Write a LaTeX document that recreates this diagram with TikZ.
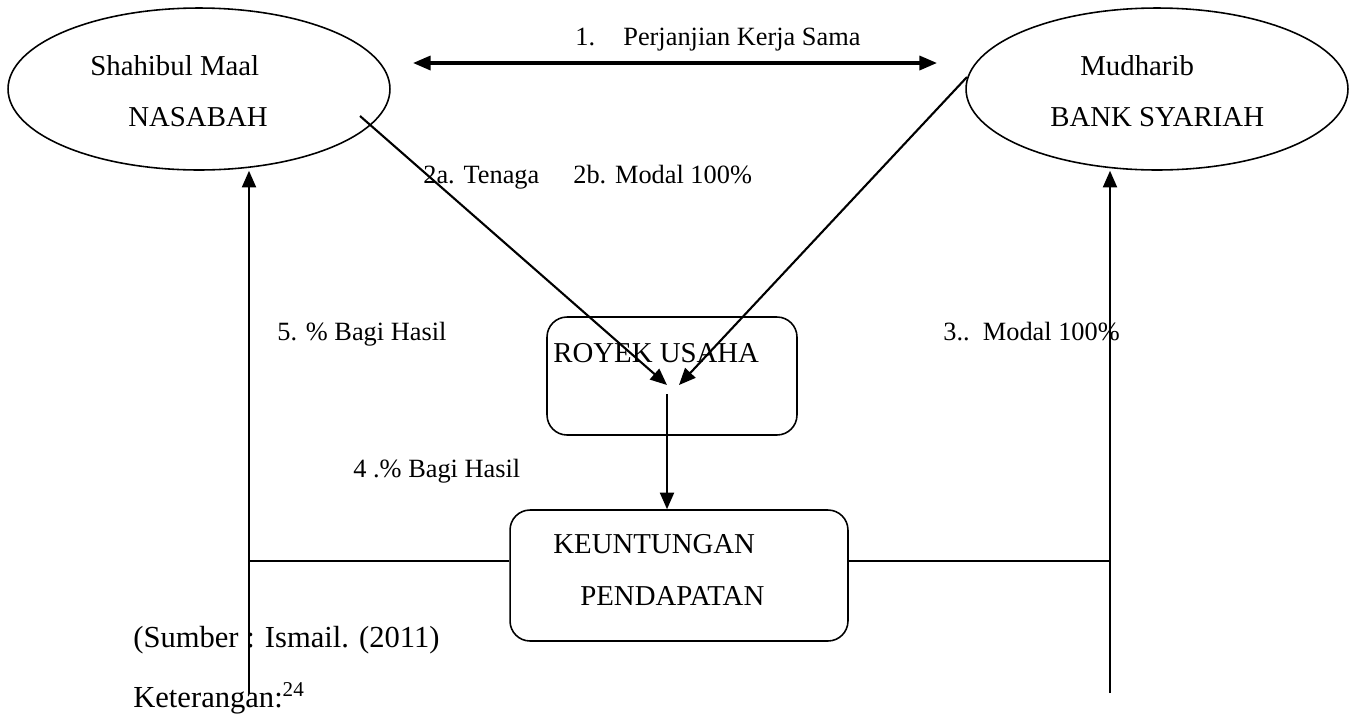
\documentclass[tikz,border=0pt]{standalone}
\usepackage{fontspec}
\setmainfont{Liberation Serif}
\usetikzlibrary{arrows.meta,shapes.geometric}
\tikzset{
  big/.style={font=\fontsize{16.4}{20}\selectfont, inner sep=0pt, anchor=base west},
  lbl/.style={font=\fontsize{15}{18}\selectfont, inner sep=0pt, anchor=base west},
  src/.style={font=\fontsize{17.4}{21}\selectfont, inner sep=0pt, anchor=base west},
  party/.style={draw, ellipse, line width=0.9pt, minimum width=7.64cm, minimum height=3.24cm, inner sep=0pt},
  rbox/.style={draw, rounded corners=0.4cm, line width=0.9pt, inner sep=0pt},
  conn/.style={line width=1.2pt},
  tip/.style={},
  arr/.style={conn, -{Triangle[length=9.5pt,width=8pt]}},
}
\begin{document}
\begin{tikzpicture}[x=0.02cm,y=-0.02cm]
\useasboundingbox (0,0) rectangle (1351,721);
% parties
\node[party] (nas) at (199,89) {};
\node[party] (bank) at (1157,89) {};
\node[big] (t1) at (90,75) {Shahibul Maal};
\node[big] (t2) at (128,126) {NASABAH};
\node[big] (t3) at (1080,75) {Mudharib};
\node[big] (t4) at (1050,126) {BANK SYARIAH};
% boxes
\node[rbox, minimum width=5cm, minimum height=2.36cm] (roy) at (672,376) {};
\node[big] (t5) at (553,362) {ROYEK USAHA};
\node[rbox, minimum width=6.76cm, minimum height=2.62cm] (keu) at (679,575.5) {};
\node[big] (t6) at (553,553) {KEUNTUNGAN};
\node[big] (t7) at (580,605) {PENDAPATAN};
% coordinates
\coordinate (aL) at (413,63);
\coordinate (aR) at (937,63);
\coordinate (s2a) at (360,116);
\coordinate (s2b) at (967,77);
\coordinate (e2a) at (667,385);
\coordinate (e2b) at (679,385);
\coordinate (s4) at (667,394);
\coordinate (lb) at (249,693);
\coordinate (rb) at (1110,693);
\coordinate (hl) at (0,561);
% connectors
\draw[conn, line width=1.8pt, {Triangle[length=10pt,width=8pt]}-{Triangle[length=10pt,width=8pt]}] (aL) -- (aR);
\draw[arr] (s2a) -- (e2a);
\draw[arr] (s2b) -- (e2b);
\draw[arr] (s4) -- (s4 |- keu.north);
\draw[arr] (lb) -- (lb |- nas.south);
\draw[arr] (rb) -- (rb |- bank.south);
\draw[line width=0.9pt] (keu.west |- hl) -- (lb |- hl);
\draw[line width=0.9pt] (keu.east |- hl) -- (rb |- hl);
% labels
\node[lbl] (l1a) at (575,45) {1.};
\node[lbl] (l1) at (623,45) {Perjanjian Kerja Sama};
\node[lbl] (l2a) at (423,183) {2a. Tenaga};
\node[lbl] (l2b) at (573,183) {2b. Modal 100\%};
\node[lbl] (l5) at (277,340) {5. \% Bagi Hasil};
\node[lbl] (l3) at (943,340) {3..\ \ Modal 100\%};
\node[lbl] (l4) at (353,477) {4 .\% Bagi Hasil};
\node[src] (s1) at (133,647) {(Sumber : Ismail. (2011)};
\node[src] (s2) at (133,707) {Keterangan:$^{\mbox{\fontsize{12}{14}\selectfont 24}}$};
\end{tikzpicture}
\end{document}
